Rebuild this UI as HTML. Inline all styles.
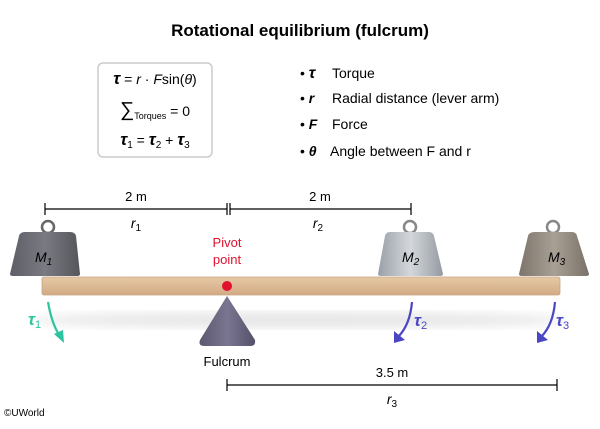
<!DOCTYPE html>
<html><head><meta charset="utf-8"><style>
body{margin:0;width:600px;height:424px;background:#fff;font-family:"Liberation Sans",sans-serif;overflow:hidden}
</style></head><body>
<svg width="600" height="424" viewBox="0 0 600 424" xmlns="http://www.w3.org/2000/svg" font-family="Liberation Sans, sans-serif">
<defs>
<linearGradient id="beam" x1="0" y1="0" x2="0" y2="1"><stop offset="0" stop-color="#e6c9a6"/><stop offset="1" stop-color="#d2aa84"/></linearGradient>
<linearGradient id="g1" x1="0" y1="0" x2="1" y2="0"><stop offset="0" stop-color="#5e5e66"/><stop offset="0.5" stop-color="#7a7a82"/><stop offset="1" stop-color="#55555c"/></linearGradient>
<linearGradient id="g2" x1="0" y1="0" x2="1" y2="0"><stop offset="0" stop-color="#9aa0a8"/><stop offset="0.5" stop-color="#d4d8dc"/><stop offset="1" stop-color="#959aa2"/></linearGradient>
<linearGradient id="g3" x1="0" y1="0" x2="1" y2="0"><stop offset="0" stop-color="#7d756b"/><stop offset="0.5" stop-color="#a89f95"/><stop offset="1" stop-color="#7a7268"/></linearGradient>
<linearGradient id="ful" x1="0" y1="0" x2="1" y2="0"><stop offset="0" stop-color="#5d5970"/><stop offset="0.5" stop-color="#7a7590"/><stop offset="1" stop-color="#55516a"/></linearGradient>
<filter id="blur"><feGaussianBlur stdDeviation="5"/></filter>
</defs>
<text x="300" y="36" text-anchor="middle" font-size="17" font-weight="bold">Rotational equilibrium (fulcrum)</text>
<rect x="98" y="63" width="114" height="94" rx="5" fill="#fff" stroke="#ccc" stroke-width="1.5"/>
<text x="155" y="84" text-anchor="middle" font-size="14"><tspan font-weight="bold" font-style="italic" font-size="17">τ</tspan> = <tspan font-style="italic">r</tspan> · <tspan font-style="italic">F</tspan>sin(<tspan font-style="italic">θ</tspan>)</text>
<text x="155" y="116" text-anchor="middle" font-size="14"><tspan font-size="20">∑</tspan><tspan font-size="9" dy="3">Torques</tspan><tspan dy="-3"> = 0</tspan></text>
<text x="155" y="145" text-anchor="middle" font-size="14"><tspan font-weight="bold" font-style="italic" font-size="17">τ</tspan><tspan font-size="10" dy="3">1</tspan><tspan dy="-3"> = </tspan><tspan font-weight="bold" font-style="italic" font-size="17">τ</tspan><tspan font-size="10" dy="3">2</tspan><tspan dy="-3"> + </tspan><tspan font-weight="bold" font-style="italic" font-size="17">τ</tspan><tspan font-size="10" dy="3">3</tspan></text>
<g font-size="14">
<text x="300" y="78">• <tspan font-weight="bold" font-style="italic" font-size="16">τ</tspan><tspan x="332">Torque</tspan></text>
<text x="300" y="103">• <tspan font-weight="bold" font-style="italic">r</tspan><tspan x="332">Radial distance (lever arm)</tspan></text>
<text x="300" y="129">• <tspan font-weight="bold" font-style="italic">F</tspan><tspan x="332">Force</tspan></text>
<text x="300" y="156">• <tspan font-weight="bold" font-style="italic">θ</tspan><tspan x="330">Angle between F and r</tspan></text>
</g>
<g stroke="#000" stroke-width="1.2">
<line x1="45" y1="209" x2="227" y2="209"/><line x1="45" y1="203" x2="45" y2="215"/><line x1="227" y1="203" x2="227" y2="215"/>
<line x1="230" y1="209" x2="411" y2="209"/><line x1="230" y1="203" x2="230" y2="215"/><line x1="411" y1="203" x2="411" y2="215"/>
<line x1="227" y1="385" x2="557" y2="385"/><line x1="227" y1="379" x2="227" y2="391"/><line x1="557" y1="379" x2="557" y2="391"/>
</g>
<g font-size="13" text-anchor="middle">
<text x="136" y="201">2 m</text><text x="320" y="201">2 m</text><text x="392" y="377">3.5 m</text>
<text x="136" y="228" font-size="14"><tspan font-style="italic">r</tspan><tspan font-size="10" dy="3">1</tspan></text>
<text x="318" y="228" font-size="14"><tspan font-style="italic">r</tspan><tspan font-size="10" dy="3">2</tspan></text>
<text x="392" y="404" font-size="14"><tspan font-style="italic">r</tspan><tspan font-size="10" dy="3">3</tspan></text>
</g>
<ellipse cx="300" cy="320" rx="270" ry="8" fill="#ddd" filter="url(#blur)" opacity="0.7"/>
<rect x="42" y="277" width="518" height="18" rx="2" fill="url(#beam)" stroke="#c9a582" stroke-width="0.8"/>
<path d="M227 296 L255 340 Q256 346 250 346 L204 346 Q198 346 200 340 Z" fill="url(#ful)"/>
<circle cx="227" cy="286" r="5" fill="#e0102e"/>
<text x="227" y="247" text-anchor="middle" font-size="13" fill="#e0102e">Pivot</text>
<text x="227" y="264" text-anchor="middle" font-size="13" fill="#e0102e">point</text>
<text x="227" y="366" text-anchor="middle" font-size="13">Fulcrum</text>
<g>
<circle cx="48" cy="227" r="6" fill="none" stroke="#666" stroke-width="2.5"/>
<path d="M25 232 L70 232 Q75 232 76 236 L80 274 Q80 276 77 276 L13 276 Q10 276 10 274 L19 236 Q20 232 25 232 Z" fill="url(#g1)"/>
<text x="35" y="262" font-size="14" font-style="italic">M<tspan font-size="10" dy="3">1</tspan></text>
<circle cx="410" cy="227" r="6" fill="none" stroke="#888" stroke-width="2.5"/>
<path d="M390 232 L429 232 Q433 232 434 236 L443 274 Q443 276 440 276 L381 276 Q378 276 378 274 L385 236 Q386 232 390 232 Z" fill="url(#g2)"/>
<text x="402" y="262" font-size="14" font-style="italic">M<tspan font-size="10" dy="3">2</tspan></text>
<circle cx="553" cy="227" r="6" fill="none" stroke="#888" stroke-width="2.5"/>
<path d="M535 232 L572 232 Q576 232 577 236 L589 274 Q589 276 586 276 L522 276 Q519 276 519 274 L528 236 Q529 232 535 232 Z" fill="url(#g3)"/>
<text x="548" y="262" font-size="14" font-style="italic">M<tspan font-size="10" dy="3">3</tspan></text>
</g>
<g fill="none" stroke-width="2.2">
<path d="M48 302 Q52 325 60 336" stroke="#2ec4a0"/>
<path d="M412 302 Q410 325 398 337" stroke="#4a46c4"/>
<path d="M555 302 Q553 325 541 337" stroke="#4a46c4"/>
</g>
<path d="M54 334 L64 343 L63 330 Z" fill="#2ec4a0"/>
<path d="M394 331 L394 343 L405 340 Z" fill="#4a46c4"/>
<path d="M537 331 L537 343 L548 340 Z" fill="#4a46c4"/>
<text x="28" y="325" font-size="17" font-weight="bold" font-style="italic" fill="#2ec4a0">τ<tspan font-size="11" font-weight="normal" font-style="normal" dy="3">1</tspan></text>
<text x="414" y="326" font-size="17" font-weight="bold" font-style="italic" fill="#4a46c4">τ<tspan font-size="11" font-weight="normal" font-style="normal" dy="3">2</tspan></text>
<text x="556" y="326" font-size="17" font-weight="bold" font-style="italic" fill="#4a46c4">τ<tspan font-size="11" font-weight="normal" font-style="normal" dy="3">3</tspan></text>
<text x="4" y="416" font-size="10">©UWorld</text>
</svg>
</body></html>
